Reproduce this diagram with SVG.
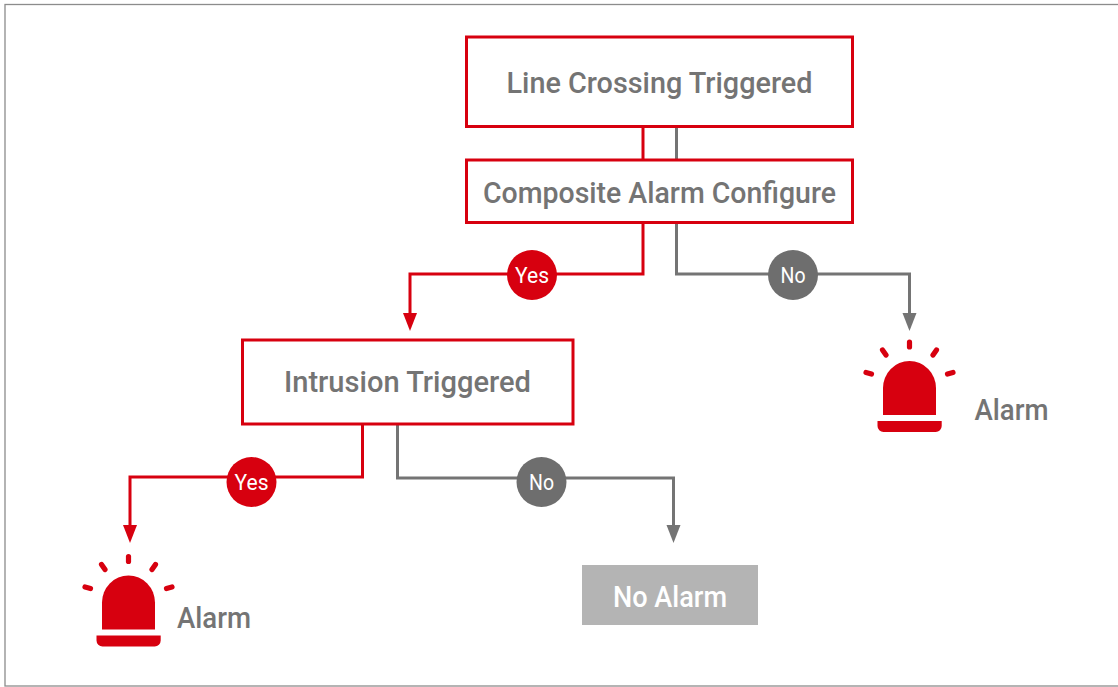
<svg xmlns="http://www.w3.org/2000/svg" xmlns:xlink="http://www.w3.org/1999/xlink" width="1118" height="687" viewBox="0 0 1118 687">
<style>
text{font-family:"Roboto","Liberation Sans",sans-serif;font-weight:500;text-anchor:middle}
.lbl{font-size:30px;fill:#747474}
.box{fill:#fff;stroke:#d7000f;stroke-width:3}
.red{fill:none;stroke:#d7000f;stroke-width:3}
.gray{fill:none;stroke:#747474;stroke-width:3}
.c{font-size:22px;fill:#fff;font-weight:400}
</style>
<defs>
<g id="alarm">
<path d="M883 415V388a26.500 27 0 0 1 53 0V415Z" fill="#d7000f"/>
<path d="M877.500 421H941.700V426a6 6 0 0 1-6 6H883.500a6 6 0 0 1-6-6Z" fill="#d7000f"/>
<g stroke="#d7000f" stroke-width="5.200" stroke-linecap="round" fill="none">
<path d="M909.500 342V347"/><path d="M882.500 350L886 355"/><path d="M936.500 350L933 355"/><path d="M866 372.500L871.500 374"/><path d="M953 372.500L947.500 374"/>
</g>
</g>
</defs>
<rect x="5" y="4.500" width="1120" height="681.500" fill="#fff" stroke="#8c8c8c" stroke-width="1.300"/>
<g id="connectors">
<path class="red" d="M643 127V160"/>
<path class="gray" d="M676.500 127V160"/>
<path class="gray" d="M676.500 223V274H909.500V316"/>
<path fill="#747474" d="M902.500 313H916.500L909.500 331Z"/>
<path class="red" d="M643 223V274H410V316"/>
<path fill="#d7000f" d="M403 313H417L410 331Z"/>
<path class="red" d="M362.500 424V477H130V528"/>
<path fill="#d7000f" d="M123 525H137L130 543Z"/>
<path class="gray" d="M397.500 424V478H673.500V528"/>
<path fill="#747474" d="M666.500 525H680.500L673.500 543Z"/>
</g>
<g id="node-line-crossing"><rect class="box" x="466.500" y="37" width="386" height="89.500"/><text class="lbl" x="659.500" y="92.500" textLength="306" lengthAdjust="spacingAndGlyphs">Line Crossing Triggered</text></g>
<g id="node-composite"><rect class="box" x="466.500" y="160" width="386" height="62.500"/><text class="lbl" x="659.500" y="202.500" textLength="353" lengthAdjust="spacingAndGlyphs">Composite Alarm Configure</text></g>
<g id="node-yes-1"><circle cx="532" cy="275" r="25" fill="#d7000f"/><text class="c" x="532" y="283" textLength="34" lengthAdjust="spacingAndGlyphs">Yes</text></g>
<g id="node-no-1"><circle cx="793" cy="275" r="25" fill="#6e6e6e"/><text class="c" x="793" y="283" textLength="25" lengthAdjust="spacingAndGlyphs">No</text></g>
<g id="node-intrusion"><rect class="box" x="242.500" y="340" width="330.500" height="84"/><text class="lbl" x="407.500" y="391.500" textLength="247" lengthAdjust="spacingAndGlyphs">Intrusion Triggered</text></g>
<g id="node-yes-2"><circle cx="251.500" cy="482" r="25" fill="#d7000f"/><text class="c" x="251.500" y="490" textLength="34" lengthAdjust="spacingAndGlyphs">Yes</text></g>
<g id="node-no-2"><circle cx="541.500" cy="482" r="25" fill="#6e6e6e"/><text class="c" x="541.500" y="490" textLength="25" lengthAdjust="spacingAndGlyphs">No</text></g>
<g id="node-alarm-right"><use xlink:href="#alarm" href="#alarm"/><text class="lbl" x="1011.500" y="419.500" textLength="74" lengthAdjust="spacingAndGlyphs">Alarm</text></g>
<g id="node-alarm-left"><use xlink:href="#alarm" href="#alarm" transform="translate(-781 214.500)"/><text class="lbl" x="214" y="627.500" textLength="74" lengthAdjust="spacingAndGlyphs">Alarm</text></g>
<g id="node-no-alarm"><rect x="582" y="565" width="176" height="60" fill="#b4b4b4"/><text class="lbl" x="670" y="606.500" style="fill:#fff" textLength="114" lengthAdjust="spacingAndGlyphs">No Alarm</text></g>
</svg>
